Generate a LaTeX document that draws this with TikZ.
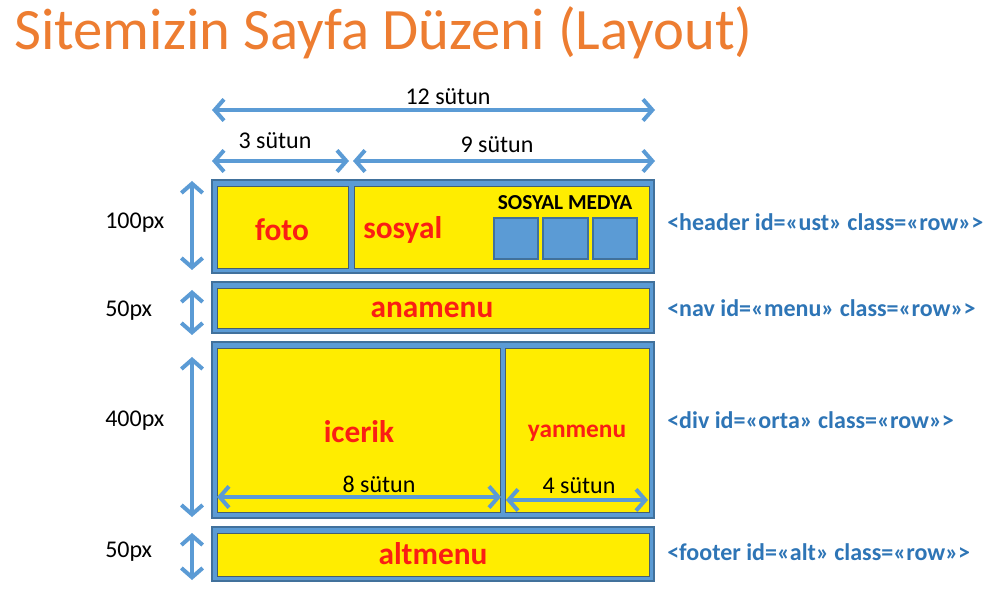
\documentclass[tikz,border=0pt]{standalone}
\usepackage{fontspec}
\setmainfont{Carlito}
\usetikzlibrary{arrows.meta,fit}

\definecolor{frameblue}{RGB}{91,155,213}
\definecolor{edgeblue}{RGB}{65,113,156}
\definecolor{celledge}{RGB}{70,95,110}
\definecolor{cellyellow}{RGB}{255,237,0}
\definecolor{labelred}{RGB}{250,30,20}
\definecolor{tagblue}{RGB}{46,117,182}
\definecolor{titleorange}{RGB}{237,125,49}

\begin{document}
\begin{tikzpicture}[x=0.75pt,y=-0.75pt,
  rowframe/.style={draw=edgeblue, line width=0.9pt, fill=frameblue, inner sep=0pt},
  cell/.style={draw=celledge, line width=0.6pt, fill=cellyellow, inner sep=0pt},
  iconbox/.style={draw=edgeblue, line width=2pt, fill=frameblue, inner sep=0pt},
  dimarrow/.style={draw=frameblue, line width=3pt,
    {Straight Barb[length=7pt,width=16pt]}-{Straight Barb[length=7pt,width=16pt]}},
  dimtext/.style={font=\fontsize{18}{20}\selectfont, text=black, inner sep=0pt},
  celltext/.style={font=\fontsize{23.5}{25}\selectfont\bfseries, text=labelred, inner sep=0pt},
  tagtext/.style={font=\fontsize{18}{20}\selectfont\bfseries, text=tagblue, inner sep=0pt, anchor=west},
]
\useasboundingbox (0,0) rectangle (996,598);

% title
\node[anchor=base west, text=titleorange, font=\fontsize{44}{48}\selectfont, inner sep=0pt]
  (title) at (14,50) {Sitemizin Sayfa Düzeni (Layout)};

% row frames
\node[rowframe, fit={(212,180) (654,273)}] (hdr) {};
\node[rowframe, fit={(212,282) (654,333)}] (nav) {};
\node[rowframe, fit={(212,342) (654,518)}] (orta) {};
\node[rowframe, fit={(212,527) (654,581)}] (ftr) {};

% yellow cells
\node[cell, fit={(217,186) (348,268)}] (foto) {};
\node[cell, fit={(354,186) (649,268)}] (sosyal) {};
\node[cell, fit={(217,288) (649,328)}] (ana) {};
\node[cell, fit={(217,348) (500,512)}] (icerik) {};
\node[cell, fit={(505,348) (649,512)}] (yan) {};
\node[cell, fit={(217,533) (649,576)}] (alt) {};

% social media icons
\node[iconbox, fit={(494,218) (538,259)}] (sq1) {};
\node[iconbox, fit={(543,218) (588,259)}] (sq2) {};
\node[iconbox, fit={(593,218) (637,259)}] (sq3) {};
\node[font=\fontsize{16}{18}\selectfont\bfseries, inner sep=0pt] (smtitle) at (565,203) {SOSYAL MEDYA};

% cell labels
\node[celltext] (tfoto) at (282,230) {foto};
\node[celltext, anchor=west] (tsosyal) at (363,230) {sosyal};
\node[celltext] (tana) at (432,310) {anamenu};
\node[celltext] (ticerik) at (359,432) {icerik};
\node[celltext, font=\fontsize{19}{21}\selectfont\bfseries] (tyan) at (577,433) {yanmenu};
\node[celltext] (talt) at (433,554) {altmenu};

% column width arrows
\coordinate (c12a) at (212,110);  \coordinate (c12b) at (655,110);
\coordinate (c3a) at (212,161);   \coordinate (c3b) at (349,161);
\coordinate (c9a) at (353,161);   \coordinate (c9b) at (655,161);
\coordinate (c8a) at (217,497);   \coordinate (c8b) at (501,497);
\coordinate (c4a) at (506,500);   \coordinate (c4b) at (648,500);
\draw[dimarrow] (c12a) -- (c12b);
\draw[dimarrow] (c3a) -- (c3b);
\draw[dimarrow] (c9a) -- (c9b);
\draw[dimarrow] (c8a) -- (c8b);
\draw[dimarrow] (c4a) -- (c4b);
\node[dimtext] (t12) at (448,97) {12 sütun};
\node[dimtext] (t3) at (275,141) {3 sütun};
\node[dimtext] (t9) at (497,145) {9 sütun};
\node[dimtext] (t8) at (379,484) {8 sütun};
\node[dimtext] (t4) at (579,486) {4 sütun};

% row height arrows
\coordinate (h1a) at (192,181); \coordinate (h1b) at (192,270);
\coordinate (h2a) at (192,290); \coordinate (h2b) at (192,335);
\coordinate (h3a) at (192,357); \coordinate (h3b) at (192,517);
\coordinate (h4a) at (192,533); \coordinate (h4b) at (192,580);
\draw[dimarrow] (h1a) -- (h1b);
\draw[dimarrow] (h2a) -- (h2b);
\draw[dimarrow] (h3a) -- (h3b);
\draw[dimarrow] (h4a) -- (h4b);
\node[dimtext, anchor=west] (p100) at (105,223) {100px};
\node[dimtext, anchor=west] (p50a) at (105,311) {50px};
\node[dimtext, anchor=west] (p400) at (105,421) {400px};
\node[dimtext, anchor=west] (p50b) at (105,552) {50px};

% markup tags
\node[tagtext] (tagh) at (667,222) {<header id=«ust» class=«row»>};
\node[tagtext] (tagn) at (667,308) {<nav id=«menu» class=«row»>};
\node[tagtext] (tagd) at (667,420) {<div id=«orta» class=«row»>};
\node[tagtext] (tagf) at (667,552) {<footer id=«alt» class=«row»>};
\end{tikzpicture}
\end{document}
